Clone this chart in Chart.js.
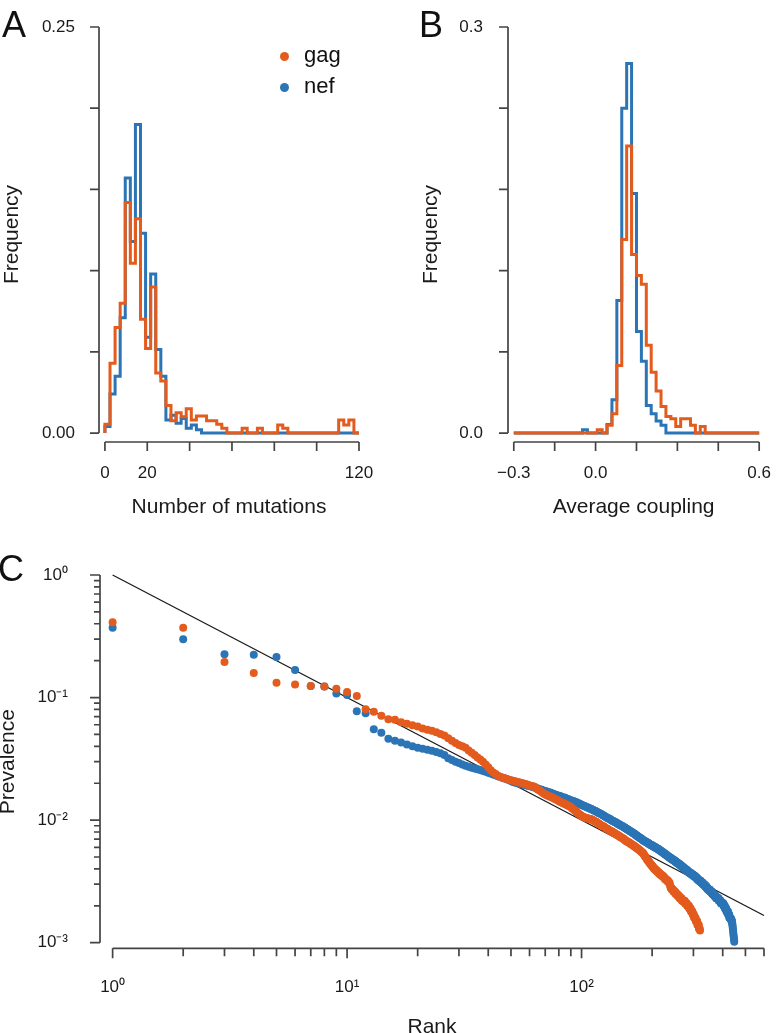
<!doctype html>
<html lang="en">
<head>
<meta charset="UTF-8">
<title>Mutations, coupling and prevalence of gag and nef</title>
<script src="https://cdn.jsdelivr.net/npm/chart.js@4.4.1/dist/chart.umd.min.js"></script>
<style>
  html, body { margin: 0; padding: 0; background: #fff; overflow: hidden; }
  body { position: relative; width: 783px; height: 1033px; font-family: "Liberation Sans", Arial, sans-serif; color: #111; }
  canvas { position: absolute; left: 0; top: 0; }
  .letter { position: absolute; font-size: 36px; line-height: 1; }
  .key { position: absolute; font-size: 22px; line-height: 1; }
  .dot { position: absolute; width: 9px; height: 9px; border-radius: 50%; }
</style>
</head>
<body>
  <canvas id="chartA" width="783" height="1033" style="width:783px;height:1033px"></canvas>
  <canvas id="chartB" width="783" height="1033" style="width:783px;height:1033px"></canvas>
  <canvas id="chartC" width="783" height="1033" style="width:783px;height:1033px"></canvas>

  <div class="letter" style="left:2px;top:7px">A</div>
  <div class="letter" style="left:419px;top:7px">B</div>
  <div class="letter" style="left:-2px;top:551px">C</div>

  <!-- legend of panel A -->
  <span class="dot" style="left:280px;top:52px;background:#E35B1D"></span>
  <div class="key" style="left:304px;top:44px">gag</div>
  <span class="dot" style="left:280px;top:83px;background:#2B74B6"></span>
  <div class="key" style="left:304px;top:75px">nef</div>

<script>
// Data-----
// A: histogram of the number of mutations, 50 bins of 2.4 from 0
const mutBinStart = 0;
const mutBinWidth = 2.4;
const gagMutations = [
  0, 0.0055, 0.043, 0.065, 0.080, 0.142, 0.1045, 0.132, 0.070, 0.052,
  0.090, 0.037, 0.032, 0.017, 0.0076, 0.0125, 0.010, 0.015, 0.008, 0.0105,
  0.0105, 0.0076, 0.0076, 0.0054, 0.003, 0, 0, 0, 0.003, 0,
  0, 0.003, 0, 0, 0, 0.005, 0.003, 0, 0, 0,
  0, 0, 0, 0, 0, 0, 0, 0.008, 0.005, 0.008
];
const nefMutations = [
  0, 0.004, 0.024, 0.035, 0.071, 0.157, 0.118, 0.190, 0.123, 0.059,
  0.098, 0.0515, 0.035, 0.008, 0.011, 0.006, 0.009, 0.003, 0.005, 0.002,
  0, 0, 0, 0, 0, 0, 0, 0, 0, 0,
  0, 0, 0, 0, 0, 0, 0, 0, 0, 0,
  0, 0, 0, 0, 0, 0, 0, 0, 0, 0
];
const mutTicks = [0, 20, 40, 60, 80, 100, 120];
const mutLabels = {0: '0', 20: '20', 120: '120'};
const freqTicksA = [0, 0.05, 0.10, 0.15, 0.20, 0.25];
const freqLabelsA = {0: '0.00', 0.25: '0.25'};

// B: histogram of the average coupling, 50 bins of 0.018 from -0.3
const cplBinStart = -0.3;
const cplBinWidth = 0.018;
const gagCoupling = [
  0, 0, 0, 0, 0, 0, 0, 0, 0, 0,
  0, 0, 0, 0, 0, 0, 0, 0, 0.0025, 0,
  0.0057, 0.0143, 0.050, 0.143, 0.212, 0.132, 0.1165, 0.110, 0.0648, 0.045,
  0.031, 0.0197, 0.0123, 0.0106, 0.0049, 0.0106, 0.0106, 0.0057, 0, 0.0049,
  0, 0, 0, 0, 0, 0, 0, 0, 0, 0
];
const nefCoupling = [
  0, 0, 0, 0, 0, 0, 0, 0, 0, 0,
  0, 0, 0, 0, 0, 0.0025, 0, 0, 0, 0,
  0.0064, 0.0246, 0.098, 0.240, 0.273, 0.177, 0.075, 0.053, 0.0204, 0.0143,
  0.0089, 0.0057, 0, 0, 0, 0, 0, 0, 0, 0,
  0, 0, 0, 0, 0, 0, 0, 0, 0, 0
];
const cplTicks = [-0.3, -0.15, 0, 0.15, 0.3, 0.45, 0.6];
const cplLabels = {'-0.3': '\u22120.3', '0': '0.0', '0.6': '0.6'};
const freqTicksB = [0, 0.06, 0.12, 0.18, 0.24, 0.3];
const freqLabelsB = {0: '0.0', 0.3: '0.3'};

// C: prevalence by rank (rank = position in the list, starting at 1)
const gagPrevalence = [
  0.411, 0.372, 0.195, 0.159, 0.132, 0.128, 0.124, 0.123, 0.118, 0.111,
  0.103, 0.0802, 0.0767, 0.0711, 0.0665, 0.0660, 0.0630, 0.0610, 0.0595, 0.0580,
  0.0560, 0.0545, 0.0535, 0.0520, 0.0505, 0.0490, 0.0465, 0.0445, 0.0425, 0.0410,
  0.0400, 0.0390, 0.0370, 0.0355, 0.0340, 0.0325, 0.0312, 0.0300, 0.0285, 0.0270,
  0.0255, 0.0245, 0.0238, 0.0230, 0.0226, 0.0222, 0.0220, 0.0217, 0.0214, 0.0212,
  0.0210, 0.0208, 0.0206, 0.0204, 0.0202, 0.0200, 0.0198, 0.0196, 0.0194, 0.0192,
  0.0190, 0.0189, 0.0187, 0.0182, 0.0178, 0.0175, 0.0172, 0.0168, 0.0165, 0.0162,
  0.0160, 0.0158, 0.0156, 0.0155, 0.0153, 0.0151, 0.0149, 0.0147, 0.0145, 0.0143,
  0.0141, 0.0140, 0.0138, 0.0137, 0.0135, 0.0134, 0.0132, 0.0131, 0.0130, 0.0128,
  0.0125, 0.0123, 0.0121, 0.0119, 0.0117, 0.0115, 0.0113, 0.0111, 0.0110, 0.0108,
  0.0107, 0.0106, 0.0105, 0.0104, 0.0104, 0.0103, 0.0103, 0.0102, 0.0102, 0.0101,
  0.0101, 0.0100, 0.0099, 0.0098, 0.0097, 0.0096, 0.0095, 0.0094, 0.0093, 0.0092,
  0.0091, 0.0090, 0.0089, 0.0089, 0.0088, 0.0087, 0.0086, 0.0085, 0.0085, 0.0084,
  0.0083, 0.0082, 0.0082, 0.0081, 0.0080, 0.0080, 0.0079, 0.0078, 0.0078, 0.0077,
  0.0076, 0.0076, 0.0075, 0.0075, 0.0074, 0.0073, 0.0073, 0.0072, 0.0071, 0.0071,
  0.0070, 0.0070, 0.0069, 0.0068, 0.0068, 0.0067, 0.0067, 0.0066, 0.0066, 0.0065,
  0.0065, 0.0064, 0.0064, 0.0063, 0.0063, 0.0062, 0.0062, 0.0061, 0.0061, 0.0060,
  0.0060, 0.0059, 0.0059, 0.0058, 0.0058, 0.0057, 0.0057, 0.0056, 0.0056, 0.0055,
  0.0055, 0.0054, 0.0054, 0.0053, 0.0052, 0.0051, 0.0050, 0.0050, 0.0049, 0.0048,
  0.0047, 0.0047, 0.0046, 0.0046, 0.0045, 0.0044, 0.0044, 0.0043, 0.0043, 0.0042,
  0.0042, 0.0041, 0.0041, 0.0040, 0.0040, 0.0040, 0.0039, 0.0039, 0.0039, 0.0038,
  0.0038, 0.0038, 0.0037, 0.0037, 0.0037, 0.0036, 0.0036, 0.0036, 0.0036, 0.0035,
  0.0035, 0.0035, 0.0035, 0.0034, 0.0034, 0.0034, 0.0033, 0.0033, 0.0033, 0.0033,
  0.0032, 0.0032, 0.0032, 0.0032, 0.0031, 0.0031, 0.0031, 0.0030, 0.0029, 0.0028,
  0.0028, 0.0028, 0.0027, 0.0027, 0.0027, 0.0027, 0.0026, 0.0026, 0.0026, 0.0026,
  0.0026, 0.0025, 0.0025, 0.0025, 0.0025, 0.0025, 0.0024, 0.0024, 0.0024, 0.0024,
  0.0024, 0.0023, 0.0023, 0.0023, 0.0023, 0.0023, 0.0023, 0.0022, 0.0022, 0.0022,
  0.0022, 0.0022, 0.0022, 0.0022, 0.0022, 0.0021, 0.0021, 0.0021, 0.0021, 0.0021,
  0.0021, 0.0020, 0.0020, 0.0020, 0.0020, 0.0020, 0.0020, 0.0019, 0.0019, 0.0019,
  0.0019, 0.0019, 0.0018, 0.0018, 0.0018, 0.0018, 0.0018, 0.0017, 0.0017, 0.0017,
  0.0017, 0.0016, 0.0016, 0.0016, 0.0016, 0.0016, 0.0015, 0.0015, 0.0015, 0.0015,
  0.0015, 0.0014, 0.0014, 0.0014, 0.0014, 0.0014, 0.0013, 0.0013, 0.0013, 0.00126
];
const nefPrevalence = [
  0.372, 0.299, 0.226, 0.224, 0.214, 0.168, 0.124, 0.123, 0.108, 0.105,
  0.0773, 0.0744, 0.0551, 0.0517, 0.0462, 0.0445, 0.0430, 0.0415, 0.0400, 0.0390,
  0.0382, 0.0375, 0.0368, 0.0360, 0.0352, 0.0340, 0.0320, 0.0310, 0.0300, 0.0292,
  0.0285, 0.0278, 0.0272, 0.0268, 0.0264, 0.0260, 0.0256, 0.0252, 0.0248, 0.0244,
  0.0240, 0.0236, 0.0232, 0.0228, 0.0225, 0.0222, 0.0219, 0.0216, 0.0213, 0.0209,
  0.0205, 0.0203, 0.0201, 0.0199, 0.0197, 0.0195, 0.0194, 0.0193, 0.0191, 0.0190,
  0.0188, 0.0186, 0.0185, 0.0183, 0.0181, 0.0179, 0.0178, 0.0176, 0.0174, 0.0173,
  0.0171, 0.0170, 0.0168, 0.0167, 0.0165, 0.0163, 0.0162, 0.0160, 0.0159, 0.0158,
  0.0157, 0.0155, 0.0154, 0.0153, 0.0152, 0.0150, 0.0149, 0.0148, 0.0146, 0.0145,
  0.0144, 0.0143, 0.0142, 0.0141, 0.0140, 0.0138, 0.0137, 0.0136, 0.0135, 0.0133,
  0.0132, 0.0131, 0.0130, 0.0129, 0.0128, 0.0127, 0.0126, 0.0125, 0.0124, 0.0123,
  0.0122, 0.0121, 0.0120, 0.0119, 0.0118, 0.0117, 0.0116, 0.0115, 0.0114, 0.0113,
  0.0112, 0.0111, 0.0110, 0.0109, 0.0108, 0.0107, 0.0106, 0.0105, 0.0104, 0.0103,
  0.0103, 0.0102, 0.0101, 0.0100, 0.0099, 0.0099, 0.0098, 0.0097, 0.0096, 0.0096,
  0.0095, 0.0094, 0.0093, 0.0093, 0.0092, 0.0091, 0.0091, 0.0090, 0.0089, 0.0089,
  0.0088, 0.0087, 0.0087, 0.0086, 0.0085, 0.0085, 0.0084, 0.0083, 0.0083, 0.0082,
  0.0081, 0.0081, 0.0080, 0.0080, 0.0079, 0.0078, 0.0078, 0.0077, 0.0077, 0.0076,
  0.0075, 0.0075, 0.0074, 0.0074, 0.0073, 0.0072, 0.0072, 0.0071, 0.0071, 0.0070,
  0.0070, 0.0069, 0.0069, 0.0068, 0.0068, 0.0067, 0.0067, 0.0067, 0.0066, 0.0066,
  0.0065, 0.0065, 0.0065, 0.0064, 0.0064, 0.0063, 0.0063, 0.0063, 0.0062, 0.0062,
  0.0062, 0.0061, 0.0061, 0.0061, 0.0060, 0.0060, 0.0060, 0.0059, 0.0059, 0.0059,
  0.0058, 0.0058, 0.0058, 0.0057, 0.0057, 0.0057, 0.0056, 0.0056, 0.0056, 0.0055,
  0.0055, 0.0055, 0.0054, 0.0054, 0.0054, 0.0053, 0.0053, 0.0053, 0.0052, 0.0052,
  0.0052, 0.0051, 0.0051, 0.0051, 0.0050, 0.0050, 0.0050, 0.0049, 0.0049, 0.0049,
  0.0049, 0.0048, 0.0048, 0.0048, 0.0048, 0.0047, 0.0047, 0.0047, 0.0047, 0.0046,
  0.0046, 0.0046, 0.0046, 0.0045, 0.0045, 0.0045, 0.0045, 0.0044, 0.0044, 0.0044,
  0.0044, 0.0043, 0.0043, 0.0043, 0.0043, 0.0042, 0.0042, 0.0042, 0.0042, 0.0041,
  0.0041, 0.0041, 0.0041, 0.0040, 0.0040, 0.0040, 0.0040, 0.0040, 0.0039, 0.0039,
  0.0039, 0.0039, 0.0039, 0.0038, 0.0038, 0.0038, 0.0038, 0.0037, 0.0037, 0.0037,
  0.0037, 0.0037, 0.0037, 0.0036, 0.0036, 0.0036, 0.0036, 0.0036, 0.0036, 0.0035,
  0.0035, 0.0035, 0.0035, 0.0035, 0.0035, 0.0034, 0.0034, 0.0034, 0.0034, 0.0034,
  0.0033, 0.0033, 0.0033, 0.0033, 0.0033, 0.0032, 0.0032, 0.0032, 0.0032, 0.0032,
  0.0032, 0.0032, 0.0031, 0.0031, 0.0031, 0.0031, 0.0031, 0.0031, 0.0030, 0.0030,
  0.0030, 0.0030, 0.0030, 0.0030, 0.0029, 0.0029, 0.0029, 0.0029, 0.0029, 0.0029,
  0.0028, 0.0028, 0.0028, 0.0028, 0.0028, 0.0027, 0.0027, 0.0027, 0.0027, 0.0027,
  0.0027, 0.0027, 0.0027, 0.0026, 0.0026, 0.0026, 0.0026, 0.0026, 0.0026, 0.0026,
  0.0025, 0.0025, 0.0025, 0.0025, 0.0025, 0.0025, 0.0025, 0.0024, 0.0024, 0.0024,
  0.0024, 0.0024, 0.0024, 0.0024, 0.0023, 0.0023, 0.0023, 0.0023, 0.0023, 0.0023,
  0.0023, 0.0023, 0.0023, 0.0023, 0.0022, 0.0022, 0.0022, 0.0022, 0.0022, 0.0022,
  0.0022, 0.0022, 0.0021, 0.0021, 0.0021, 0.0021, 0.0021, 0.0021, 0.0021, 0.0021,
  0.0021, 0.0021, 0.0020, 0.0020, 0.0020, 0.0020, 0.0020, 0.0020, 0.0019, 0.0019,
  0.0019, 0.0019, 0.0019, 0.0019, 0.0018, 0.0018, 0.0018, 0.0018, 0.0018, 0.0018,
  0.0018, 0.0017, 0.0017, 0.0017, 0.0017, 0.0017, 0.0016, 0.0016, 0.0016, 0.0016,
  0.0016, 0.00155, 0.00155, 0.00155, 0.00155, 0.00154, 0.0015, 0.00148, 0.00145, 0.0014,
  0.00135, 0.0013, 0.00125, 0.0012, 0.00115, 0.0011, 0.00106, 0.00102
];
// reference power law 1/rank, drawn between its two end points
const zipfRank = [1, 600];
const zipfPrevalence = [1, 1 / 600];
const rankTicks = [1, 2, 3, 4, 5, 6, 7, 8, 9, 10, 20, 30, 40, 50, 60, 70, 80, 90, 100, 200, 300, 400, 500, 600];
const rankLabels = {1: '10\u2070', 10: '10\u00B9', 100: '10\u00B2'};
const prevTicks = [0.001, 0.002, 0.003, 0.004, 0.005, 0.006, 0.007, 0.008, 0.009,
  0.01, 0.02, 0.03, 0.04, 0.05, 0.06, 0.07, 0.08, 0.09,
  0.1, 0.2, 0.3, 0.4, 0.5, 0.6, 0.7, 0.8, 0.9, 1];
const prevLabels = {0.001: '10\u207B\u00B3', 0.01: '10\u207B\u00B2', 0.1: '10\u207B\u00B9', 1: '10\u2070'};
// Data-----

const GAG = '#E35B1D';
const NEF = '#2B74B6';
const AXIS = '#444444';

Chart.defaults.font.family = "'Liberation Sans', Arial, sans-serif";
Chart.defaults.color = '#1a1a1a';

// histogram outline: one step per bin, closed down to zero at the right end
function stepOutline(freqs, start, width) {
  const pts = freqs.map((f, i) => ({x: start + i * width, y: f}));
  pts.push({x: start + freqs.length * width, y: 0});
  return pts;
}

function labelFrom(map) {
  return (value) => {
    for (const k in map) {
      if (Math.abs(Number(k) - value) < 1e-9) return map[k];
    }
    return '';
  };
}

function fixedTicks(values, majors) {
  return (scale) => {
    scale.ticks = values.map(v => ({value: v, major: majors ? majors.includes(v) : true}));
  };
}

// R style axes: the line only runs from the first tick to the last one
const rAxes = {
  id: 'rAxes',
  afterDraw(chart) {
    const {ctx, chartArea} = chart;
    ctx.save();
    ctx.strokeStyle = AXIS;
    ctx.lineWidth = 1.7;
    Object.values(chart.scales).forEach(scale => {
      const len = scale.options.grid.tickLength;
      const minorLen = scale.axis === 'y' && scale.type === 'logarithmic' ? 6 : (scale.type === 'logarithmic' ? 8 : len);
      const px = scale.ticks.map(t => scale.getPixelForValue(t.value));
      const a = Math.min(...px), b = Math.max(...px);
      ctx.beginPath();
      if (scale.isHorizontal()) {
        const y = chartArea.bottom;
        ctx.moveTo(a, y); ctx.lineTo(b, y);
        scale.ticks.forEach((t, i) => { ctx.moveTo(px[i], y); ctx.lineTo(px[i], y + (t.major ? len : minorLen)); });
      } else {
        const x = chartArea.left;
        ctx.moveTo(x, a); ctx.lineTo(x, b);
        scale.ticks.forEach((t, i) => { ctx.moveTo(x, px[i]); ctx.lineTo(x - (t.major ? len : minorLen), px[i]); });
      }
      ctx.stroke();
    });
    ctx.restore();
  }
};

const hiddenGrid = {display: true, drawOnChartArea: false, drawTicks: true, color: 'rgba(0,0,0,0)'};
const tickFont = {size: 17};
const titleFont = {size: 21};
const base = {
  responsive: false,
  animation: false,
  events: [],
  plugins: {legend: {display: false}, tooltip: {enabled: false}}
};

function histDataset(label, data, color) {
  return {label, data, borderColor: color, borderWidth: 3, stepped: 'after',
    pointRadius: 0, fill: false, clip: false, tension: 0};
}

// Panel A-----
new Chart(document.getElementById('chartA'), {
  type: 'line',
  data: {datasets: [
    histDataset('gag', stepOutline(gagMutations, mutBinStart, mutBinWidth), GAG),
    histDataset('nef', stepOutline(nefMutations, mutBinStart, mutBinWidth), NEF)
  ]},
  options: Object.assign({}, base, {
    layout: {padding: {left: 0, top: 27, right: 424, bottom: 513}},
    scales: {
      x: {
        type: 'linear', min: -2.8, max: 120,
        afterBuildTicks: fixedTicks(mutTicks),
        afterFit: (s) => { s.height = 78; },
        grid: Object.assign({tickLength: 9}, hiddenGrid),
        border: {display: false},
        ticks: {autoSkip: false, maxRotation: 0, padding: 12, font: tickFont, callback: labelFrom(mutLabels)},
        title: {display: true, text: 'Number of mutations', font: titleFont, padding: 0}
      },
      y: {
        type: 'linear', min: -0.0055, max: 0.25,
        afterBuildTicks: fixedTicks(freqTicksA),
        afterFit: (s) => { s.width = 99; },
        grid: Object.assign({tickLength: 9}, hiddenGrid),
        border: {display: false},
        ticks: {autoSkip: false, padding: 15, font: tickFont, callback: labelFrom(freqLabelsA)},
        title: {display: true, text: 'Frequency', font: titleFont, padding: 0}
      }
    }
  }),
  plugins: [rAxes]
});

// Panel B-----
new Chart(document.getElementById('chartB'), {
  type: 'line',
  data: {datasets: [
    histDataset('gag', stepOutline(gagCoupling, cplBinStart, cplBinWidth), GAG),
    histDataset('nef', stepOutline(nefCoupling, cplBinStart, cplBinWidth), NEF)
  ]},
  options: Object.assign({}, base, {
    layout: {padding: {left: 419, top: 27, right: 14, bottom: 513}},
    scales: {
      x: {
        type: 'linear', min: -0.3212, max: 0.6,
        afterBuildTicks: fixedTicks(cplTicks),
        afterFit: (s) => { s.height = 78; },
        grid: Object.assign({tickLength: 9}, hiddenGrid),
        border: {display: false},
        ticks: {autoSkip: false, maxRotation: 0, padding: 12, font: tickFont, callback: labelFrom(cplLabels)},
        title: {display: true, text: 'Average coupling', font: titleFont, padding: 0}
      },
      y: {
        type: 'linear', min: -0.0066, max: 0.3,
        afterBuildTicks: fixedTicks(freqTicksB),
        afterFit: (s) => { s.width = 89; },
        grid: Object.assign({tickLength: 9}, hiddenGrid),
        border: {display: false},
        ticks: {autoSkip: false, padding: 16, font: tickFont, callback: labelFrom(freqLabelsB)},
        title: {display: true, text: 'Frequency', font: titleFont, padding: 0}
      }
    }
  }),
  plugins: [rAxes]
});

// Panel C-----
// dataset 0 is painted last: gag on top, the 1/rank line underneath
new Chart(document.getElementById('chartC'), {
  type: 'scatter',
  data: {datasets: [
    {label: 'gag', data: gagPrevalence.map((p, i) => ({x: i + 1, y: p})),
      backgroundColor: GAG, borderWidth: 0, pointRadius: 4},
    {label: 'nef', data: nefPrevalence.map((p, i) => ({x: i + 1, y: p})),
      backgroundColor: NEF, borderWidth: 0, pointRadius: 4},
    {type: 'line', label: '1/rank', data: zipfRank.map((r, i) => ({x: r, y: zipfPrevalence[i]})),
      borderColor: '#1a1a1a', borderWidth: 1.3, pointRadius: 0, fill: false, clip: false}
  ]},
  options: Object.assign({}, base, {
    layout: {padding: {left: 0, top: 575, right: 14.3, bottom: 0}},
    scales: {
      x: {
        type: 'logarithmic', min: 0.8835, max: 600,
        afterBuildTicks: fixedTicks(rankTicks, [1, 10, 100]),
        afterFit: (s) => { s.height = 84.7; },
        grid: Object.assign({tickLength: 10}, hiddenGrid),
        border: {display: false},
        ticks: {autoSkip: false, maxRotation: 0, padding: 19, font: tickFont, callback: labelFrom(rankLabels)},
        title: {display: true, text: 'Rank', font: titleFont, padding: {top: 0, bottom: -7}}
      },
      y: {
        type: 'logarithmic', min: 0.0009, max: 1,
        afterBuildTicks: fixedTicks(prevTicks, [0.001, 0.01, 0.1, 1]),
        afterFit: (s) => { s.width = 100; },
        grid: Object.assign({tickLength: 10}, hiddenGrid),
        border: {display: false},
        ticks: {autoSkip: false, padding: 22, font: tickFont, callback: labelFrom(prevLabels)},
        title: {display: true, text: 'Prevalence', font: titleFont, padding: {top: -4, bottom: 0}}
      }
    }
  }),
  plugins: [rAxes]
});
</script>
</body>
</html>
